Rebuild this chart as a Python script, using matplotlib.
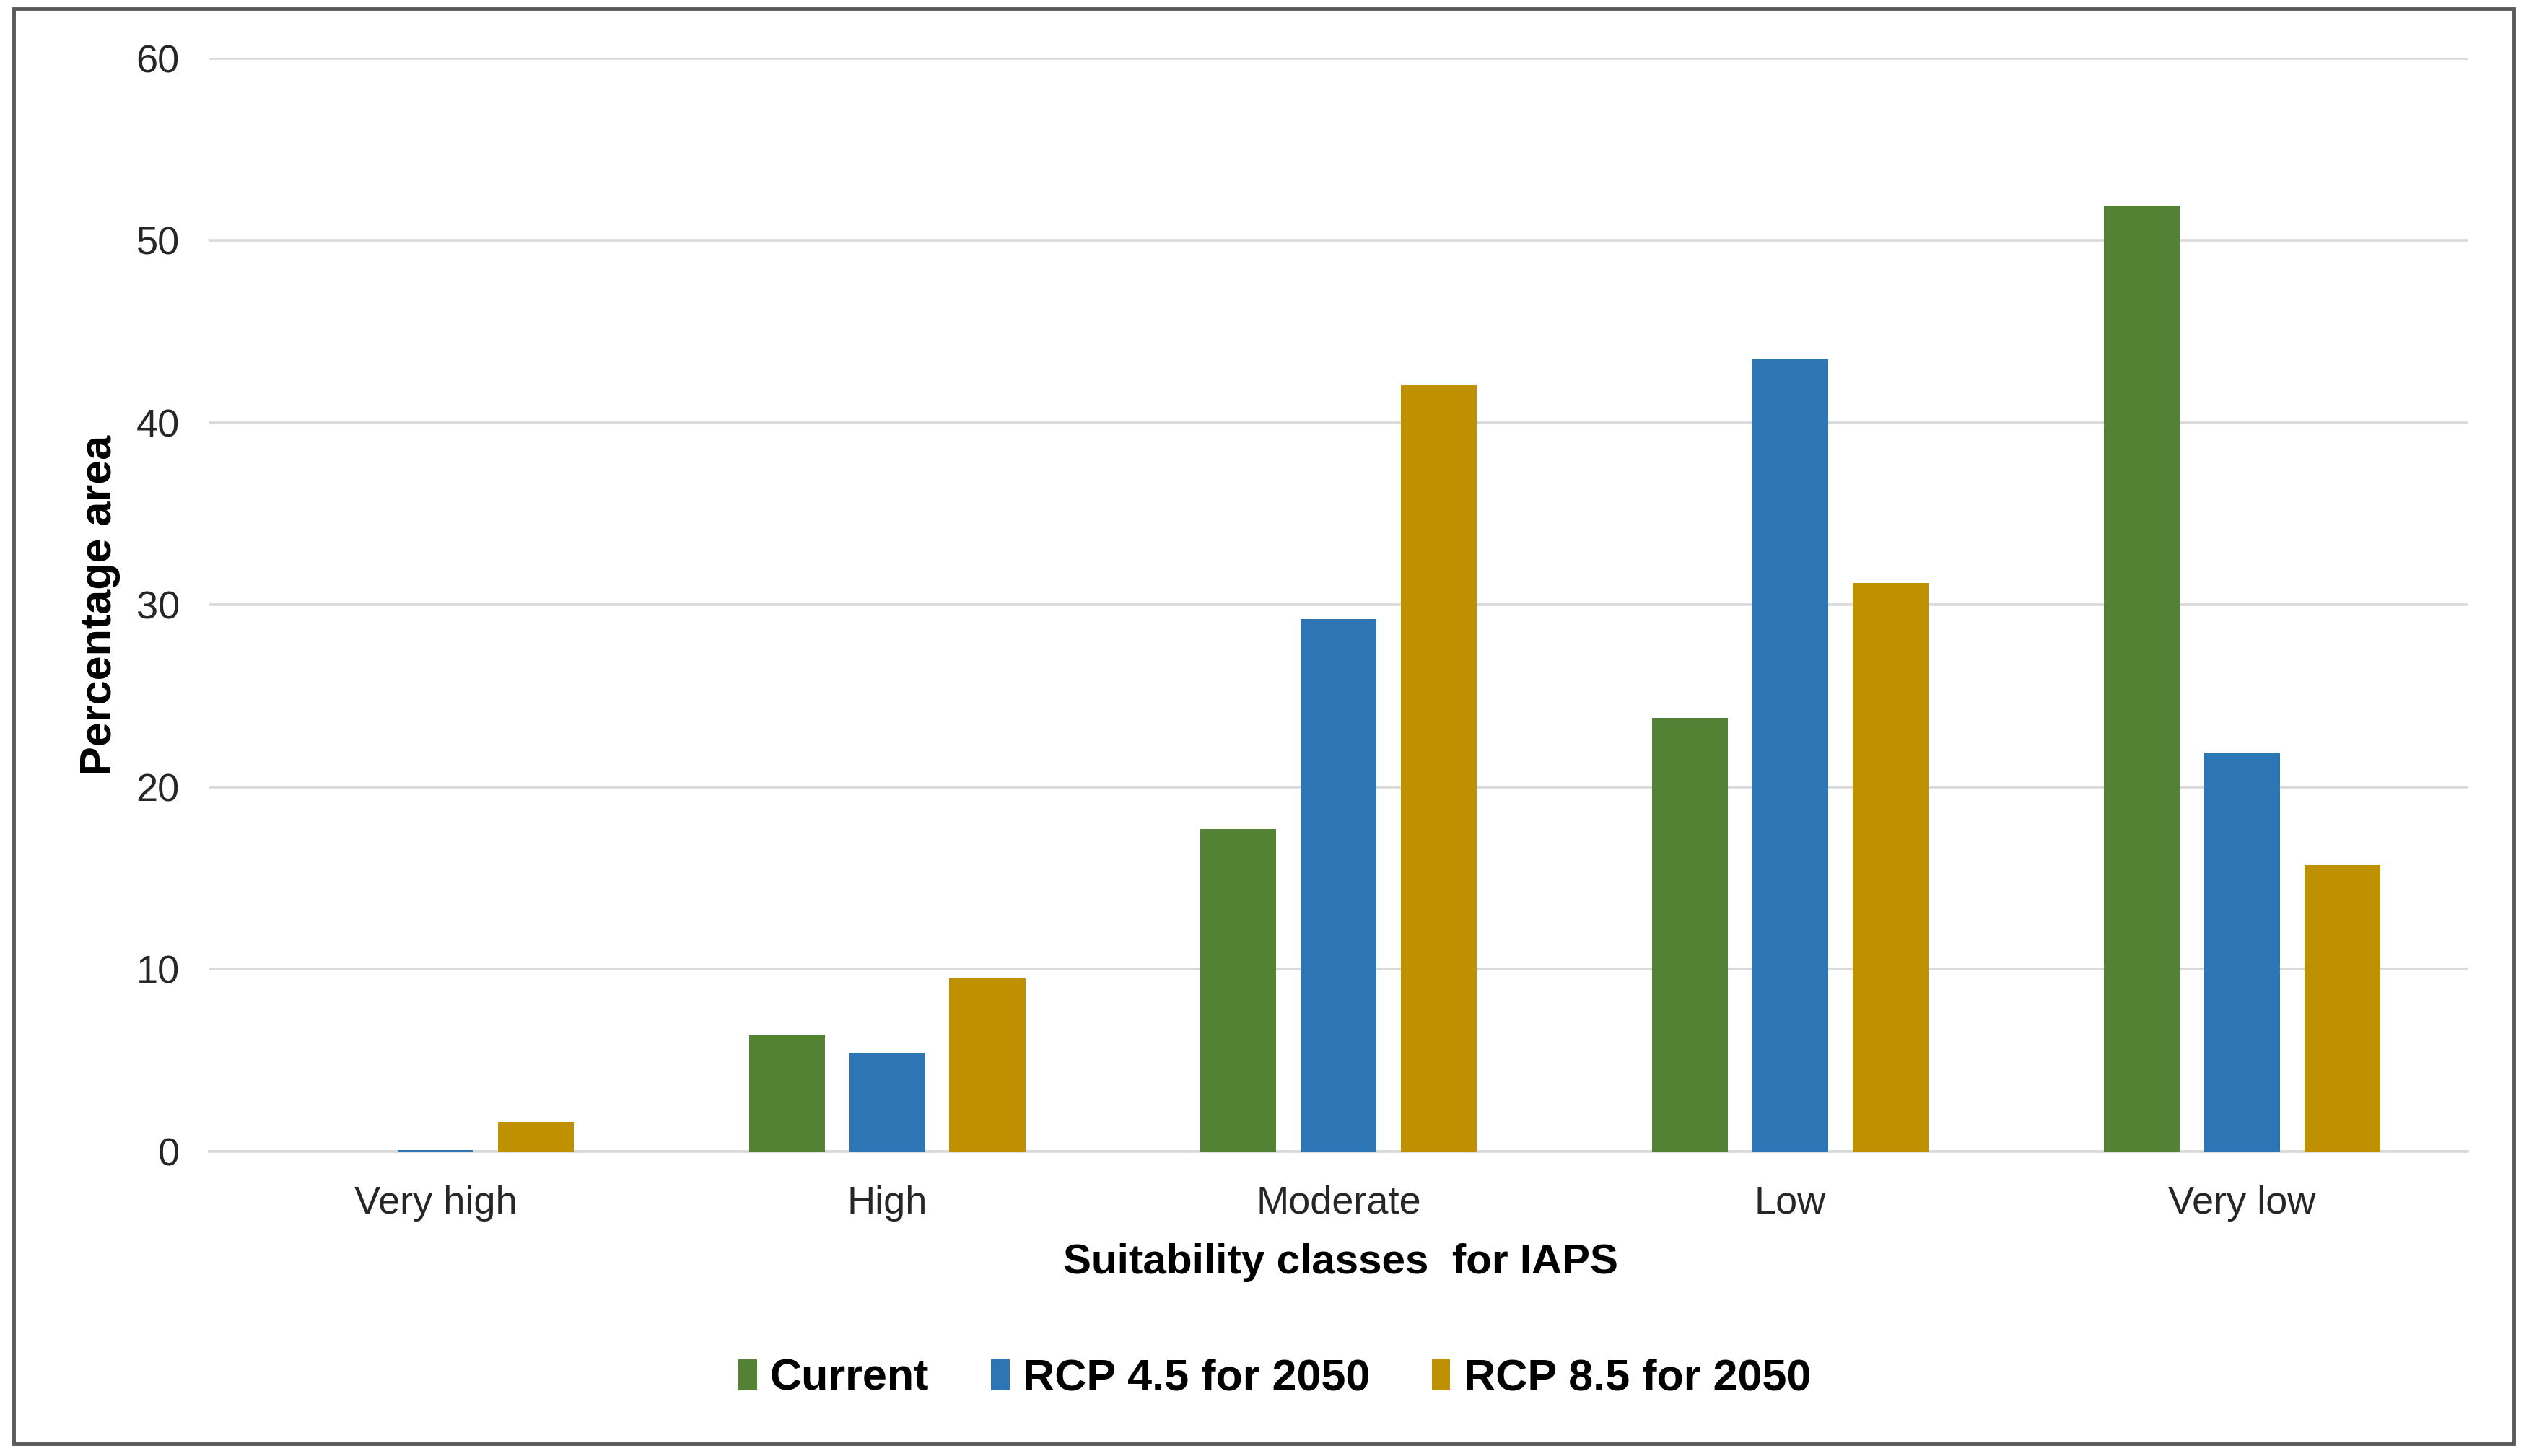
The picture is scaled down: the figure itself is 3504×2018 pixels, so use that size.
import matplotlib
matplotlib.use("Agg")
from matplotlib import pyplot as plt
from matplotlib.patches import Rectangle
import numpy as np

plt.rcParams['font.family'] = ['Liberation Sans', 'DejaVu Sans']

# data
categories = ["Very high", "High", "Moderate", "Low", "Very low"]
current = [0.0, 6.4, 17.7, 23.8, 51.9]
rcp45 = [0.05, 5.4, 29.2, 43.5, 21.9]
rcp85 = [1.6, 9.5, 42.1, 31.2, 15.7]
series_names = ["Current", "RCP 4.5 for 2050", "RCP 8.5 for 2050"]
colors = ["#548235", "#2E75B6", "#BF9000"]
yticks = [0, 10, 20, 30, 40, 50, 60]

fig = plt.figure(figsize=(35.04, 20.18), dpi=100)
ax = fig.add_axes([0.0829, 0.2093, 0.8929, 0.7507])

x = np.arange(len(categories))
width = 0.168
step = 0.222
for k, (vals, name, col) in enumerate(zip([current, rcp45, rcp85], series_names, colors)):
    ax.bar(x + (k - 1) * step, vals, width, color=col, label=name, zorder=3)

ax.set_xlim(-0.5, len(categories) - 0.5)
ax.set_ylim(0, 60)
ax.set_yticks(yticks)
ax.set_xticks(x)
ax.set_xticklabels(categories)
ax.yaxis.grid(True, color="#D9D9D9", linewidth=2.6, zorder=0)
ax.set_axisbelow(True)
for s in ["top", "right", "left"]:
    ax.spines[s].set_visible(False)
ax.spines["bottom"].set_color("#D9D9D9")
ax.spines["bottom"].set_linewidth(2.6)
ax.spines["bottom"].set_zorder(1)
ax.tick_params(axis="both", length=0, labelsize=39)
ax.tick_params(axis="y", pad=30)
ax.tick_params(axis="x", pad=34)
for t in ax.get_xticklabels() + ax.get_yticklabels():
    t.set_color("#262626")

fig.text(0.0395, 0.5845, "Percentage area", rotation=90, ha="center", va="center",
         fontsize=44, fontweight="bold", color="#000000")
fig.text(0.530, 0.133, "Suitability classes  for IAPS", ha="center", va="center",
         fontsize=42, fontweight="bold", color="#000000")

leg = fig.legend(loc="center", bbox_to_anchor=(0.504, 0.053), ncol=3, frameon=False,
                 prop={"size": 44, "weight": "bold"}, handlelength=0.42, handleheight=0.7,
                 handletextpad=0.3, columnspacing=1.4)

# outer border
fig.patches.append(Rectangle((0.0055, 0.0085), 0.9885, 0.9855, transform=fig.transFigure,
                             fill=False, edgecolor="#595959", linewidth=3.5))

fig.savefig("out.png", dpi=100)
